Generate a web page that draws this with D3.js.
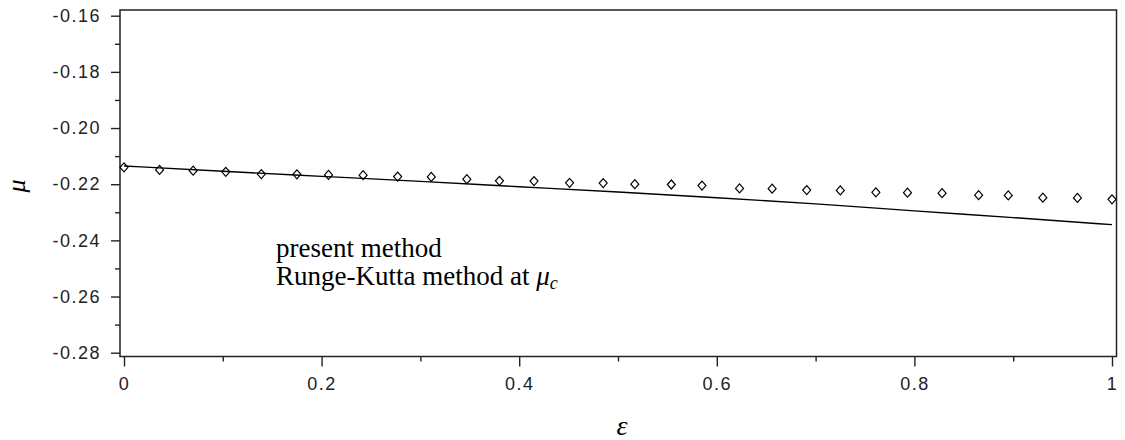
<!DOCTYPE html>
<html>
<head>
<meta charset="utf-8">
<script src="https://cdn.jsdelivr.net/npm/d3@7"></script>
<style>
  body { margin: 0; background: #fff; }
  .tick text { font-family: "Liberation Sans", Arial, sans-serif; font-size: 18px; fill: #222; letter-spacing: 1.5px; }
  .tick line { stroke: #222; stroke-width: 1.4; }
  .legendText { font-family: "Liberation Serif", "Times New Roman", serif; font-size: 27px; fill: #000; }
  .axisLabel { font-family: "Liberation Serif", "Times New Roman", serif; font-style: italic; fill: #000; }
</style>
</head>
<body>
<script>
//chart values
var epsPoints = [0, 0.036, 0.070, 0.103, 0.139, 0.175, 0.207, 0.242, 0.277, 0.311,
                 0.347, 0.380, 0.415, 0.451, 0.485, 0.517, 0.554, 0.585, 0.623, 0.656,
                 0.691, 0.725, 0.761, 0.793, 0.828, 0.865, 0.895, 0.930, 0.965, 1.0];
var muPresent = [-0.2140, -0.2149, -0.2152, -0.2156, -0.2164, -0.2165, -0.2167, -0.2168, -0.2173, -0.2174,
                 -0.2182, -0.2188, -0.2189, -0.2195, -0.2196, -0.2200, -0.2201, -0.2205, -0.2215, -0.2216,
                 -0.2221, -0.2222, -0.2229, -0.2230, -0.2232, -0.2239, -0.2240, -0.2248, -0.2249, -0.2254];
//Runge-Kutta curve
var epsLine = [0, 0.1, 0.2, 0.3, 0.4, 0.5, 0.6, 0.7, 0.8, 0.9, 1.0];
var muLine = [-0.2135, -0.2154, -0.2172, -0.2190, -0.2209, -0.2228, -0.2248, -0.2270, -0.2295, -0.2319, -0.2344];
//ticks
var xMajor = [0, 0.2, 0.4, 0.6, 0.8, 1];
var xMajorLabels = ["0", "0.2", "0.4", "0.6", "0.8", "1"];
var xMinor = [0.1, 0.3, 0.5, 0.7, 0.9];
var yMajor = [-0.28, -0.26, -0.24, -0.22, -0.20, -0.18, -0.16];
var yMajorLabels = ["-0.28", "-0.26", "-0.24", "-0.22", "-0.20", "-0.18", "-0.16"];
var yMinor = [-0.27, -0.25, -0.23, -0.21, -0.19, -0.17];
var legendLines = ["present method", "Runge-Kutta method at "];

var width = 1125, height = 440;
//plot frame
var box = {left: 120, top: 10, right: 1116.5, bottom: 356.5};

var svg = d3.select("body")
    .append("svg")
    .attr("width", width)
    .attr("height", height);

var x = d3.scaleLinear().domain([0, 1]).range([124, 1112]);
var y = d3.scaleLinear().domain([-0.28, -0.16]).range([352.7, 15.7]);

//frame
svg.append("rect")
    .attr("x", box.left)
    .attr("y", box.top)
    .attr("width", box.right - box.left)
    .attr("height", box.bottom - box.top)
    .attr("fill", "none")
    .attr("stroke", "#222")
    .attr("stroke-width", 1.5);

//y axis, major and minor
var yAxis = svg.append("g")
    .attr("transform", "translate(" + box.left + ",0)")
    .call(d3.axisLeft(y).tickValues(yMajor).tickSize(9).tickPadding(10)
        .tickFormat(function(d, i){ return yMajorLabels[i]; }));
yAxis.select(".domain").remove();
var yAxisMinor = svg.append("g")
    .attr("transform", "translate(" + box.left + ",0)")
    .call(d3.axisLeft(y).tickValues(yMinor).tickSize(5).tickFormat(""));
yAxisMinor.select(".domain").remove();

//x axis, major and minor
var xAxis = svg.append("g")
    .attr("transform", "translate(0," + box.bottom + ")")
    .call(d3.axisBottom(x).tickValues(xMajor).tickSize(10).tickPadding(11)
        .tickFormat(function(d, i){ return xMajorLabels[i]; }));
xAxis.select(".domain").remove();
var xAxisMinor = svg.append("g")
    .attr("transform", "translate(0," + box.bottom + ")")
    .call(d3.axisBottom(x).tickValues(xMinor).tickSize(5).tickFormat(""));
xAxisMinor.select(".domain").remove();

//Runge-Kutta line
var line = d3.line()
    .x(function(d, i){ return x(epsLine[i]); })
    .y(function(d){ return y(d); })
    .curve(d3.curveMonotoneX);
svg.append("path")
    .datum(muLine)
    .attr("d", line)
    .attr("fill", "none")
    .attr("stroke", "#000")
    .attr("stroke-width", 1.4);

//present method: open diamonds
var diamond = "M0,-4.5L4,0L0,4.5L-4,0Z";
svg.selectAll(".pts")
    .data(muPresent)
    .enter()
    .append("path")
    .attr("class", "pts")
    .attr("transform", function(d, i){
        return "translate(" + x(epsPoints[i]) + "," + y(d) + ")";
    })
    .attr("d", diamond)
    .attr("fill", "none")
    .attr("stroke", "#000")
    .attr("stroke-width", 1.2);

//legend text (symbols are absent in the picture)
svg.append("text")
    .attr("class", "legendText")
    .attr("x", 276)
    .attr("y", 257)
    .text(legendLines[0]);
var rk = svg.append("text")
    .attr("class", "legendText")
    .attr("x", 276)
    .attr("y", 285)
    .attr("xml:space", "preserve");
rk.append("tspan").text(legendLines[1]);
rk.append("tspan").attr("font-style", "italic").text("\u03bc");
rk.append("tspan").attr("font-style", "italic").attr("font-size", "18px").attr("dy", 4).text("c");

//axis labels
svg.append("text")
    .attr("class", "axisLabel")
    .attr("font-size", "26px")
    .attr("text-anchor", "middle")
    .attr("transform", "translate(25,186) rotate(-90)")
    .text("\u03bc");
svg.append("text")
    .attr("class", "axisLabel")
    .attr("font-size", "28px")
    .attr("text-anchor", "middle")
    .attr("x", 622)
    .attr("y", 435)
    .text("\u03b5");
</script>
</body>
</html>
